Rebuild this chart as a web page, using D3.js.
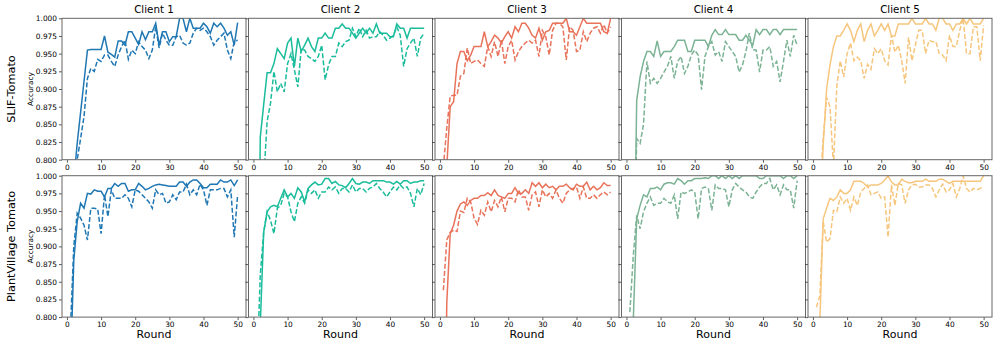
<!DOCTYPE html>
<html>
<head>
<meta charset="utf-8">
<script src="https://cdn.jsdelivr.net/npm/d3@7"></script>
<style>
  body { margin: 0; background: #fff; }
  svg text { font-family: "DejaVu Sans", sans-serif; fill: #000; }
</style>
</head>
<body>
<div id="chart"></div>
<script>
var rounds = [1,2,3,4,5,6,7,8,9,10,11,12,13,14,15,16,17,18,19,20,21,22,23,24,25,
	26,27,28,29,30,31,32,33,34,35,36,37,38,39,40,41,42,43,44,45,46,47,48,49,50];
var clients = ["Client 1", "Client 2", "Client 3", "Client 4", "Client 5"];
var datasets = ["SLIF-Tomato", "PlantVillage Tomato"];
var xTicks = [0, 10, 20, 30, 40, 50];
var yTicks = [0.800, 0.825, 0.850, 0.875, 0.900, 0.925, 0.950, 0.975, 1.000];
var colors = ["#1f77b4", "#1abc9c", "#e8735a", "#7bb394", "#f6c67e"];

// SLIF-Tomato, solid and dashed per client
var slifSolid1 = [0.70,0.77,0.823,0.867,0.911,0.955,0.956,0.956,0.956,0.956,0.975,0.952,0.949,0.945,0.968,0.968,0.962,0.981,0.981,0.972,0.963,0.981,0.970,0.981,0.981,0.993,0.962,0.981,0.981,0.967,0.974,0.974,1.0,1.0,0.981,1.0,0.986,0.986,0.986,0.993,0.988,0.979,0.993,0.988,0.993,0.986,0.976,0.981,0.962,0.994];
var slifDashed1 = [0.70,0.76,0.80,0.83,0.861,0.915,0.929,0.925,0.942,0.939,0.948,0.948,0.939,0.932,0.948,0.960,0.969,0.942,0.955,0.950,0.967,0.960,0.955,0.943,0.955,0.988,0.958,0.979,0.969,0.962,0.962,0.974,0.976,0.965,0.962,0.965,0.979,0.986,0.983,0.986,0.981,0.974,0.962,0.969,0.974,0.979,0.955,0.943,0.967,0.969];
var slifSolid2 = [0.40,0.832,0.878,0.923,0.923,0.936,0.957,0.950,0.943,0.965,0.972,0.932,0.972,0.953,0.962,0.972,0.960,0.953,0.972,0.972,0.979,0.972,0.972,0.986,0.986,0.992,0.986,0.986,0.979,0.972,0.979,0.986,0.979,0.986,0.979,0.992,0.979,0.979,0.979,0.974,0.974,0.992,0.986,0.986,0.972,0.986,0.986,0.986,0.986,0.986];
var slifDashed2 = [0.50,0.60,0.77,0.854,0.88,0.925,0.896,0.908,0.896,0.936,0.950,0.927,0.903,0.957,0.955,0.946,0.943,0.939,0.946,0.962,0.913,0.934,0.946,0.946,0.965,0.960,0.967,0.969,0.986,0.974,0.986,0.974,0.983,0.972,0.974,0.974,0.981,0.976,0.969,0.972,0.976,0.988,0.976,0.932,0.957,0.965,0.972,0.946,0.972,0.979];
var slifSolid3 = [0.50,0.79,0.875,0.882,0.936,0.953,0.953,0.940,0.948,0.960,0.960,0.960,0.981,0.960,0.967,0.976,0.972,0.965,0.974,0.981,0.972,0.988,0.981,0.993,0.993,0.986,0.976,0.972,0.986,0.969,0.981,0.983,0.993,0.993,0.993,0.993,1.0,0.981,0.981,0.976,0.988,1.0,0.993,0.993,0.993,0.993,0.993,0.981,0.979,1.0];
var slifDashed3 = [0.79,0.845,0.89,0.891,0.891,0.918,0.922,0.958,0.936,0.939,0.941,0.936,0.932,0.960,0.946,0.967,0.946,0.969,0.936,0.960,0.969,0.941,0.953,0.960,0.965,0.969,0.965,0.969,0.946,0.983,0.974,0.948,0.983,0.993,0.993,0.988,0.941,0.988,0.983,0.953,0.955,0.981,0.967,0.979,0.986,0.988,0.979,0.991,0.979,0.988];
var slifSolid4 = [0.40,0.55,0.884,0.917,0.939,0.953,0.953,0.946,0.968,0.946,0.953,0.953,0.953,0.960,0.969,0.969,0.969,0.953,0.953,0.969,0.969,0.969,0.969,0.960,0.976,0.984,0.977,0.977,0.984,0.977,0.977,0.977,0.969,0.969,0.976,0.969,0.962,0.984,0.977,0.984,0.984,0.977,0.984,0.984,0.977,0.984,0.984,0.984,0.984,0.984];
var slifDashed4 = [0.40,0.60,0.83,0.823,0.85,0.939,0.908,0.915,0.908,0.915,0.924,0.932,0.946,0.915,0.939,0.946,0.922,0.932,0.948,0.955,0.948,0.899,0.946,0.960,0.967,0.948,0.953,0.939,0.967,0.960,0.953,0.946,0.924,0.934,0.953,0.979,0.955,0.955,0.924,0.955,0.955,0.960,0.932,0.939,0.910,0.939,0.969,0.946,0.976,0.962];
var slifSolid5 = [0.50,0.70,0.82,0.90,0.934,0.960,0.975,0.975,0.983,0.992,0.983,0.967,0.983,0.992,0.967,0.983,0.992,0.975,0.983,0.992,0.983,0.992,0.975,0.975,0.992,0.992,0.992,0.992,1.0,0.992,0.992,0.992,1.0,0.992,0.992,0.983,1.0,1.0,0.992,0.992,0.983,0.992,0.992,1.0,0.992,1.0,0.992,0.992,0.992,1.0];
var slifDashed5 = [0.60,0.76,0.83,0.888,0.875,0.79,0.905,0.940,0.917,0.950,0.965,0.940,0.945,0.940,0.915,0.935,0.928,0.957,0.950,0.957,0.940,0.934,0.976,0.952,0.962,0.940,0.908,0.973,0.940,0.962,0.983,0.983,0.950,0.969,0.967,0.967,0.950,0.948,0.940,0.976,0.960,0.960,0.983,1.0,0.950,0.950,0.988,0.988,0.940,0.990];

// PlantVillage Tomato, solid and dashed per client
var pvSolid1 = [0.72,0.88,0.935,0.961,0.954,0.975,0.974,0.980,0.978,0.978,0.970,0.982,0.982,0.989,0.985,0.989,0.989,0.978,0.980,0.980,0.989,0.985,0.980,0.982,0.985,0.987,0.988,0.987,0.986,0.985,0.985,0.985,0.991,0.991,0.985,0.991,0.994,0.994,0.989,0.983,0.983,0.988,0.988,0.988,0.994,0.991,0.991,0.994,0.986,0.994];
var pvDashed1 = [0.78,0.90,0.947,0.940,0.930,0.909,0.954,0.954,0.953,0.918,0.973,0.942,0.980,0.968,0.968,0.968,0.973,0.968,0.956,0.980,0.978,0.973,0.968,0.963,0.954,0.980,0.973,0.975,0.961,0.963,0.973,0.966,0.977,0.977,0.988,0.973,0.980,0.973,0.988,0.980,0.958,0.980,0.980,0.980,0.982,0.982,0.970,0.980,0.913,0.973];
var pvSolid2 = [0.50,0.79,0.920,0.949,0.956,0.958,0.956,0.968,0.980,0.970,0.975,0.968,0.983,0.977,0.963,0.982,0.987,0.991,0.987,0.988,0.996,0.996,0.989,0.992,0.987,0.986,0.983,0.989,0.996,0.989,0.988,0.991,0.991,0.989,0.993,0.993,0.993,0.993,0.991,0.991,0.988,0.992,0.988,0.993,0.993,0.989,0.991,0.991,0.993,0.993];
var pvDashed2 = [0.72,0.86,0.920,0.949,0.937,0.918,0.954,0.958,0.975,0.970,0.949,0.935,0.961,0.970,0.961,0.980,0.975,0.980,0.968,0.977,0.977,0.984,0.980,0.984,0.975,0.982,0.982,0.977,0.987,0.977,0.982,0.982,0.977,0.982,0.984,0.989,0.982,0.977,0.970,0.977,0.984,0.980,0.987,0.982,0.984,0.975,0.956,0.982,0.973,0.989];
var pvSolid3 = [0.40,0.82,0.918,0.930,0.950,0.960,0.963,0.958,0.965,0.968,0.968,0.972,0.972,0.976,0.972,0.980,0.972,0.970,0.968,0.975,0.975,0.983,0.975,0.975,0.980,0.975,0.990,0.985,0.990,0.983,0.988,0.983,0.985,0.980,0.985,0.985,0.988,0.983,0.980,0.988,0.985,0.985,0.991,0.980,0.985,0.980,0.983,0.990,0.986,0.986];
var pvDashed3 = [0.838,0.909,0.920,0.923,0.921,0.950,0.948,0.968,0.963,0.940,0.931,0.951,0.944,0.963,0.949,0.965,0.956,0.970,0.949,0.968,0.968,0.963,0.980,0.970,0.970,0.951,0.973,0.977,0.956,0.980,0.970,0.975,0.968,0.980,0.968,0.961,0.975,0.980,0.982,0.984,0.968,0.984,0.968,0.968,0.973,0.968,0.973,0.977,0.973,0.977];
var pvSolid4 = [0.40,0.795,0.939,0.958,0.973,0.970,0.982,0.982,0.984,0.980,0.988,0.990,0.990,0.988,0.996,0.993,0.988,0.993,0.993,0.996,0.996,0.996,0.997,0.996,1.0,1.0,0.996,1.0,0.996,1.0,0.996,1.0,0.996,1.0,1.0,1.0,1.0,1.0,0.996,0.996,1.0,1.0,1.0,1.0,1.0,0.996,1.0,1.0,0.996,1.0];
var pvDashed4 = [0.807,0.887,0.944,0.925,0.949,0.961,0.970,0.958,0.961,0.961,0.968,0.963,0.961,0.973,0.939,0.977,0.975,0.977,0.980,0.977,0.939,0.982,0.984,0.982,0.951,0.987,0.982,0.982,0.980,0.956,0.980,0.989,0.984,0.980,0.977,0.970,0.968,0.977,0.984,0.989,0.989,0.996,0.980,0.987,0.973,0.987,0.980,0.980,0.954,0.993];
var pvSolid5 = [0.50,0.79,0.939,0.954,0.968,0.965,0.970,0.980,0.975,0.975,0.980,0.992,0.992,0.992,0.989,0.984,0.987,0.987,0.987,0.989,0.994,1.0,0.991,0.987,0.987,0.995,0.992,0.990,0.990,0.992,0.992,0.992,0.995,0.992,0.992,0.992,0.995,0.995,0.992,0.989,0.992,0.992,0.992,0.992,0.992,0.992,0.992,0.992,0.992,1.0];
var pvDashed5 = [0.814,0.83,0.935,0.906,0.911,0.951,0.949,0.970,0.961,0.968,0.951,0.970,0.958,0.977,0.982,0.987,0.973,0.975,0.977,0.968,0.970,0.913,0.987,0.958,0.989,0.987,0.961,0.980,0.987,0.988,0.984,0.984,0.987,0.987,0.982,0.970,0.980,0.988,0.977,0.980,0.989,0.970,0.982,1.0,0.982,0.977,0.982,0.980,0.982,0.984];

var solidRows = [
	[slifSolid1, slifSolid2, slifSolid3, slifSolid4, slifSolid5],
	[pvSolid1, pvSolid2, pvSolid3, pvSolid4, pvSolid5]
];
var dashedRows = [
	[slifDashed1, slifDashed2, slifDashed3, slifDashed4, slifDashed5],
	[pvDashed1, pvDashed2, pvDashed3, pvDashed4, pvDashed5]
];

var svgWidth = 996, svgHeight = 345;
var panelLeft = 62, panelStep = 186.5, panelW = 184;
var rowTop = [18.3, 175.7], panelH = 141.4;

var svg = d3.select("#chart").append("svg")
	.attr("width", svgWidth)
	.attr("height", svgHeight);

var x = d3.scaleLinear().domain([-1.45, 52.45]).range([0, panelW]);
var y = d3.scaleLinear().domain([0.8, 1.0]).range([panelH, 0]);

var line = d3.line()
	.x(function(d, i) { return x(rounds[i]); })
	.y(function(d) { return y(d); });

svg.append("defs").append("clipPath")
	.attr("id", "plotclip")
	.append("rect")
	.attr("width", panelW)
	.attr("height", panelH);

datasets.forEach(function(name, r) {
	clients.forEach(function(client, c) {
		var g = svg.append("g")
			.attr("transform", "translate(" + (panelLeft + c * panelStep) + "," + rowTop[r] + ")");

		var plot = g.append("g").attr("clip-path", "url(#plotclip)");
		plot.append("path")
			.datum(dashedRows[r][c])
			.attr("d", line)
			.attr("fill", "none")
			.attr("stroke", colors[c])
			.attr("stroke-width", 1.5)
			.attr("stroke-dasharray", "5,2.2");
		plot.append("path")
			.datum(solidRows[r][c])
			.attr("d", line)
			.attr("fill", "none")
			.attr("stroke", colors[c])
			.attr("stroke-width", 1.5);

		var yAxis = d3.axisLeft(y).tickValues(yTicks).tickSize(3).tickPadding(2)
			.tickFormat(c == 0 ? d3.format(".3f") : function() { return ""; });
		var ya = g.append("g").call(yAxis);
		var xa = g.append("g").attr("transform", "translate(0," + panelH + ")")
			.call(d3.axisBottom(x).tickValues(xTicks).tickSize(3).tickPadding(2));
		[ya, xa].forEach(function(a) {
			a.select(".domain").remove();
			a.selectAll(".tick line").attr("stroke", "#333").attr("stroke-width", 0.8);
			a.selectAll(".tick text").style("font-size", "7.4px").attr("fill", "#000");
		});

		g.append("rect")
			.attr("width", panelW)
			.attr("height", panelH)
			.attr("fill", "none")
			.attr("stroke", "#666")
			.attr("stroke-width", 1);

		if (r == 0) {
			g.append("text")
				.attr("x", panelW / 2)
				.attr("y", -5.5)
				.attr("text-anchor", "middle")
				.style("font-size", "10.3px")
				.text(client);
		}
		if (r == 1) {
			g.append("text")
				.attr("x", panelW / 2)
				.attr("y", panelH + 20.5)
				.attr("text-anchor", "middle")
				.style("font-size", "11px")
				.text("Round");
		}
		if (c == 0) {
			g.append("text")
				.attr("transform", "translate(-29.5," + (panelH / 2) + ") rotate(-90)")
				.attr("text-anchor", "middle")
				.style("font-size", "7.4px")
				.text("Accuracy");
			g.append("text")
				.attr("transform", "translate(-47," + (panelH / 2) + ") rotate(-90)")
				.attr("text-anchor", "middle")
				.style("font-size", "11.3px")
				.text(name);
		}
	});
});
</script>
</body>
</html>
